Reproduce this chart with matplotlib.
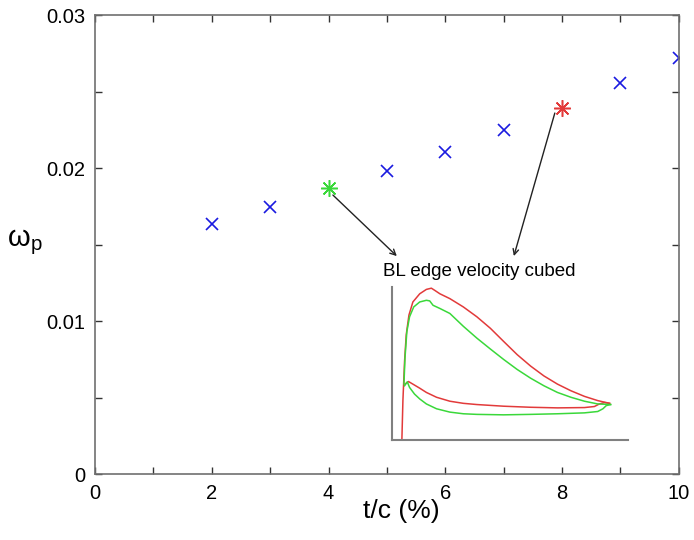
import matplotlib
matplotlib.use("Agg")
import matplotlib.pyplot as plt
from matplotlib.ticker import MultipleLocator

plt.rcParams['font.family'] = ['Liberation Sans', 'DejaVu Sans']
plt.rcParams['mathtext.fontset'] = 'custom'
plt.rcParams['mathtext.rm'] = 'Liberation Sans'
plt.rcParams['mathtext.it'] = 'Liberation Sans'

# power coefficient vs thickness-to-chord ratio
tc = [2, 3, 5, 6, 7, 9, 10]
omega = [0.01634, 0.01745, 0.0198, 0.02105, 0.02248, 0.02556, 0.02719]
tc_green, omega_green = 4, 0.01869
tc_red, omega_red = 8, 0.02392
yticks = [0, 0.01, 0.02, 0.03]
ylabels = ['0', '0.01', '0.02', '0.03']

# BL edge velocity cubed along the chord (upper and lower surfaces)
red_up_x = [0, 0.005, 0.013, 0.021, 0.034, 0.053, 0.086, 0.118, 0.142, 0.159, 0.183, 0.231,
            0.296, 0.361, 0.426, 0.490, 0.555, 0.620, 0.684, 0.749, 0.814, 0.879, 0.943, 1.0]
red_up_y = [0, 0.261, 0.522, 0.696, 0.826, 0.913, 0.967, 0.996, 1.004, 0.989, 0.967, 0.935,
            0.880, 0.815, 0.739, 0.652, 0.565, 0.489, 0.424, 0.370, 0.326, 0.289, 0.261, 0.243]
green_up_x = [0.010, 0.015, 0.024, 0.037, 0.057, 0.086, 0.118, 0.134, 0.150, 0.183, 0.231,
              0.296, 0.361, 0.426, 0.490, 0.555, 0.620, 0.684, 0.749, 0.814, 0.879, 0.943, 1.005]
green_up_y = [0.370, 0.543, 0.717, 0.815, 0.880, 0.913, 0.924, 0.920, 0.891, 0.870, 0.837,
              0.752, 0.674, 0.602, 0.533, 0.467, 0.409, 0.359, 0.315, 0.283, 0.257, 0.239, 0.235]
red_lo_x = [0.015, 0.032, 0.053, 0.086, 0.118, 0.167, 0.231, 0.296, 0.361, 0.490, 0.620,
            0.749, 0.879, 0.927, 0.951, 0.976, 1.0]
red_lo_y = [0.370, 0.387, 0.370, 0.343, 0.315, 0.283, 0.257, 0.243, 0.235, 0.224, 0.217,
            0.213, 0.215, 0.222, 0.239, 0.248, 0.243]
green_lo_x = [0.013, 0.026, 0.037, 0.061, 0.086, 0.118, 0.167, 0.231, 0.296, 0.361, 0.490,
              0.620, 0.749, 0.879, 0.943, 0.968, 0.984, 1.005]
green_lo_y = [0.359, 0.385, 0.348, 0.304, 0.272, 0.239, 0.207, 0.185, 0.174, 0.170, 0.167,
              0.170, 0.174, 0.180, 0.189, 0.207, 0.228, 0.235]

red = '#e23a3a'
green = '#3ad83a'
gray = '#707070'

fig = plt.figure(figsize=(6.94, 5.4), dpi=100)
ax = fig.add_axes([0.137, 0.122, 0.841, 0.850])

ax.plot(tc, omega, 'x', color='#1a1ae0', ms=8, mew=1.2, linestyle='none')
ax.plot(tc_green, omega_green, marker=(8, 2, 0), color=green, ms=12, mew=1.1, linestyle='none')
ax.plot(tc_red, omega_red, marker=(8, 2, 0), color=red, ms=12, mew=1.1, linestyle='none')

ax.set_xlim(0, 10)
ax.set_ylim(0, 0.03)
ax.xaxis.set_major_locator(MultipleLocator(2))
ax.xaxis.set_minor_locator(MultipleLocator(1))
ax.set_yticks(yticks, ylabels)
ax.yaxis.set_minor_locator(MultipleLocator(0.005))
ax.tick_params(which='both', direction='in', top=True, right=True, length=5,
               width=1, color='#333333', labelsize=14.5, pad=7)
for s in ax.spines.values():
    s.set_color(gray)
    s.set_linewidth(1.2)

ax.set_xlabel('t/c (%)', fontsize=19)
ax.xaxis.set_label_coords(0.524, -0.081, transform=ax.transAxes)
ax.xaxis.label.set_va('center')
fig.text(0.01, 0.552, r'$\mathrm{ω}_\mathrm{p}$', fontsize=21, ha='left', va='center')

# arrows from the two highlighted cases to the inset
arrow = dict(arrowstyle='->', color='#222222', lw=1.0, shrinkA=0, shrinkB=0)
ax.annotate('', xy=(5.17, 0.01425), xytext=(4.075, 0.01824), arrowprops=arrow)
ax.annotate('', xy=(7.175, 0.01425), xytext=(7.877, 0.0236), arrowprops=arrow)
ax.text(4.93, 0.01325, 'BL edge velocity cubed', fontsize=13.5, va='center', ha='left')

ins = fig.add_axes([0.565, 0.185, 0.340, 0.283])
ins.plot(red_up_x, red_up_y, color=red, lw=1.1, clip_on=False)
ins.plot(red_lo_x, red_lo_y, color=red, lw=1.1, clip_on=False)
ins.plot(green_up_x, green_up_y, color=green, lw=1.1, clip_on=False)
ins.plot(green_lo_x, green_lo_y, color=green, lw=1.1, clip_on=False)
ins.set_xlim(-0.047, 1.089)
ins.set_ylim(0, 1.01)
ins.set_xticks([])
ins.set_yticks([])
ins.patch.set_alpha(0)
ins.spines['top'].set_visible(False)
ins.spines['right'].set_visible(False)
for s in ('left', 'bottom'):
    ins.spines[s].set_color('#808080')
    ins.spines[s].set_linewidth(1.5)

fig.savefig('out.png', dpi=100)
